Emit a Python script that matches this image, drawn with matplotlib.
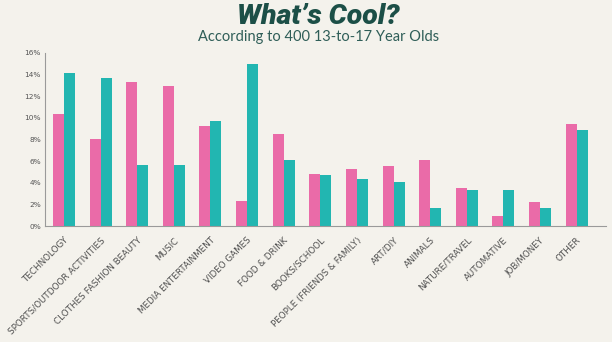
import matplotlib
matplotlib.use("Agg")
import matplotlib.pyplot as plt
import numpy as np

categories = ["TECHNOLOGY", "SPORTS/OUTDOOR ACTIVITIES", "CLOTHES FASHION BEAUTY", "MUSIC",
              "MEDIA ENTERTAINMENT", "VIDEO GAMES", "FOOD & DRINK", "BOOKS/SCHOOL",
              "PEOPLE (FRIENDS & FAMILY)", "ART/DIY", "ANIMALS", "NATURE/TRAVEL",
              "AUTOMATIVE", "JOB/MONEY", "OTHER"]
pink_values = [10.3, 8.0, 13.3, 12.9, 9.2, 2.35, 8.5, 4.8, 5.25, 5.55, 6.1, 3.55, 0.9, 2.2, 9.4]
teal_values = [14.1, 13.7, 5.6, 5.6, 9.7, 15.0, 6.1, 4.75, 4.3, 4.1, 1.7, 3.35, 3.35, 1.7, 8.9]
yticks = [0, 2, 4, 6, 8, 10, 12, 14, 16]

bg = "#F4F2EC"
pink = "#EA6BA8"
teal = "#22B6B1"

fig = plt.figure(figsize=(6.12, 3.42), dpi=100, facecolor=bg)
ax = fig.add_axes([0.0735, 0.339, 0.9165, 0.507])
ax.set_facecolor(bg)

x = np.arange(len(categories))
w = 0.3
ax.bar(x - w / 2, pink_values, width=w, color=pink, zorder=2)
ax.bar(x + w / 2, teal_values, width=w, color=teal, zorder=2)

ax.set_xlim(-0.52, 14.8)
ax.set_ylim(0, 16)
ax.set_yticks(yticks)
ax.set_yticklabels([f"{v}%" for v in yticks], fontsize=5.3, color="#555555")
ax.set_xticks(x)
ax.set_xticklabels(categories, rotation=45, ha="right", va="top", rotation_mode="anchor",
                   fontsize=6.3, color="#505050", family="DejaVu Sans")
ax.tick_params(axis="both", length=0, pad=3)
ax.tick_params(axis="x", pad=7)
for s in ["top", "right"]:
    ax.spines[s].set_visible(False)
for s in ["left", "bottom"]:
    ax.spines[s].set_color("#9a9a9a")
    ax.spines[s].set_linewidth(0.8)

fig.text(0.52, 1 - 16 / 342, "What\u2019s Cool?", ha="center", va="center",
         fontsize=20.5, fontweight=900, style="italic", color="#1C4F47", family="Roboto")
fig.text(0.52, 1 - 37.5 / 342, "According to 400 13-to-17 Year Olds", ha="center", va="center",
         fontsize=10.5, color="#2F5E58", family="Lato")

fig.savefig("out.png", dpi=100, facecolor=bg)
